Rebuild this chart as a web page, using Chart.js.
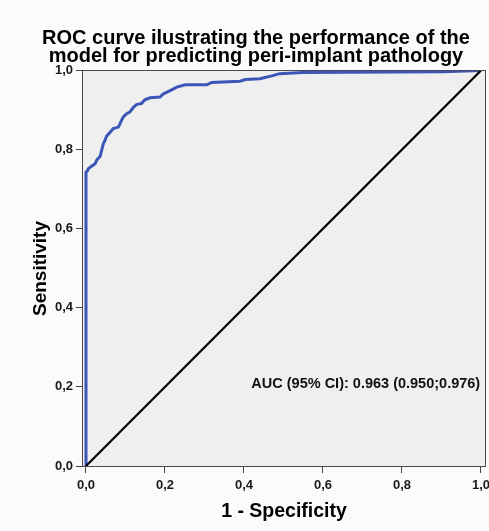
<!DOCTYPE html>
<html>
<head>
<meta charset="utf-8">
<script src="https://cdn.jsdelivr.net/npm/chart.js@4/dist/chart.umd.min.js"></script>
<style>
html,body{margin:0;padding:0;background:#fbfbfb;}
#wrap{width:489px;height:531px;}
</style>
</head>
<body>
<div id="wrap"><canvas id="c" width="489" height="531"></canvas></div>
<script>
// ROC curve (1 - specificity, sensitivity)
const rocFpr = [0, 0, 0.004, 0.006, 0.014, 0.023, 0.027, 0.031, 0.036, 0.040, 0.044, 0.048, 0.052, 0.061, 0.069, 0.082, 0.086, 0.094, 0.103, 0.111, 0.120, 0.128, 0.141, 0.149, 0.162, 0.187, 0.196, 0.213, 0.230, 0.251, 0.306, 0.318, 0.390, 0.403, 0.440, 0.473, 0.490, 0.549, 0.904, 1.0];
const rocTpr = [0, 0.743, 0.747, 0.752, 0.758, 0.764, 0.773, 0.778, 0.783, 0.800, 0.815, 0.823, 0.834, 0.844, 0.853, 0.857, 0.865, 0.882, 0.891, 0.895, 0.907, 0.914, 0.917, 0.926, 0.931, 0.933, 0.941, 0.949, 0.958, 0.964, 0.964, 0.970, 0.973, 0.977, 0.979, 0.987, 0.992, 0.995, 0.997, 1.0];
// reference (chance) line
const refX = [0, 1];
const refY = [0, 1];
// axis ticks
const tickValues = [0, 0.2, 0.4, 0.6, 0.8, 1.0];
const titleLines = ["ROC curve ilustrating the performance of the", "model for predicting peri-implant pathology"];
const xTitle = "1 - Specificity";
const yTitle = "Sensitivity";
const aucText = "AUC (95% CI): 0.963 (0.950;0.976)";

const FONT = "'Liberation Sans', Arial, sans-serif";
Chart.defaults.font.family = FONT;
Chart.defaults.color = '#1a1a1a';

const toPts = (xs, ys) => xs.map((x, i) => ({x: x, y: ys[i]}));
const fmt = v => Number(v).toFixed(1).replace('.', ',');

const plotBg = {
  id: 'plotBg',
  beforeDraw(chart) {
    const {ctx, chartArea: a} = chart;
    ctx.save();
    ctx.fillStyle = '#efefef';
    ctx.fillRect(a.left, a.top, a.right - a.left, a.bottom - a.top);
    ctx.restore();
  },
  afterDraw(chart) {
    const {ctx, chartArea: a, scales} = chart;
    ctx.save();
    ctx.strokeStyle = '#4a4a4a';
    ctx.lineWidth = 1;
    ctx.strokeRect(a.left + 0.5, a.top + 0.5, a.right - a.left - 1, a.bottom - a.top - 1);
    ctx.fillStyle = '#111';
    ctx.font = "bold 14.5px " + FONT;
    ctx.textAlign = 'right';
    ctx.textBaseline = 'middle';
    ctx.fillText(aucText, scales.x.getPixelForValue(0.998), scales.y.getPixelForValue(0.207));
    ctx.restore();
  }
};

new Chart(document.getElementById('c'), {
  type: 'scatter',
  data: {
    datasets: [
      {
        data: toPts(refX, refY),
        showLine: true, borderColor: '#000', borderWidth: 2.2, pointRadius: 0, tension: 0
      },
      {
        data: toPts(rocFpr, rocTpr),
        showLine: true, borderColor: '#3c56b8', borderWidth: 3, pointRadius: 0, tension: 0
      }
    ]
  },
  options: {
    responsive: false,
    animation: false,
    devicePixelRatio: 1,
    layout: {padding: {left: 26, right: 3, top: 0, bottom: 0}},
    plugins: {
      legend: {display: false},
      tooltip: {enabled: false},
      title: {
        display: true,
        text: titleLines,
        color: '#000',
        font: {size: 20, weight: 'bold', lineHeight: 0.9},
        padding: {top: 29, bottom: 5}
      }
    },
    scales: {
      x: {
        type: 'linear',
        min: -0.0101, max: 1.0127,
        afterBuildTicks: s => { s.ticks = tickValues.map(v => ({value: v})); },
        afterFit: s => { s.height = 64; s.paddingLeft = 0; s.paddingRight = 0; },
        ticks: {callback: v => fmt(v), font: {size: 13, weight: 'bold'}, padding: 5, maxRotation: 0, color: '#1a1a1a'},
        grid: {drawOnChartArea: false, drawTicks: true, tickLength: 6, color: '#444'},
        border: {display: false},
        title: {display: true, text: xTitle, color: '#000', font: {size: 19.5, weight: 'bold', lineHeight: 1.2}, padding: {top: 0, bottom: 8}}
      },
      y: {
        type: 'linear',
        min: -0.0025, max: 1.0013,
        afterBuildTicks: s => { s.ticks = tickValues.map(v => ({value: v})); },
        afterFit: s => { s.width = 56; s.paddingTop = 0; s.paddingBottom = 0; },
        ticks: {callback: v => fmt(v), font: {size: 13, weight: 'bold'}, padding: 3, color: '#1a1a1a'},
        grid: {drawOnChartArea: false, drawTicks: true, tickLength: 6, color: '#444'},
        border: {display: false},
        title: {display: true, text: yTitle, color: '#000', font: {size: 19, weight: 'bold', lineHeight: 1.2}, padding: {top: 3, bottom: 0}}
      }
    }
  },
  plugins: [plotBg]
});
</script>
</body>
</html>
